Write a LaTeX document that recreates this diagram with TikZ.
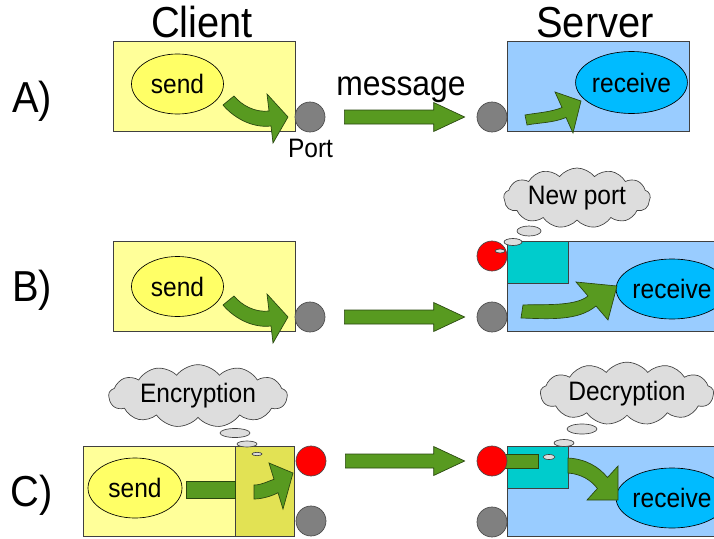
\documentclass[tikz,border=0pt]{standalone}
\usepackage{fontspec}
\setmainfont[FakeStretch=0.92]{Liberation Sans}
\usetikzlibrary{shapes.geometric,shapes.symbols,calc}

\definecolor{clientfill}{RGB}{255,255,153}
\definecolor{sendfill}{RGB}{255,255,102}
\definecolor{encfill}{RGB}{226,226,84}
\definecolor{serverfill}{RGB}{153,204,255}
\definecolor{recvfill}{RGB}{0,187,255}
\definecolor{tealfill}{RGB}{0,204,204}
\definecolor{portgrey}{RGB}{128,128,128}
\definecolor{arrowgreen}{RGB}{88,154,32}
\definecolor{arrowedge}{RGB}{40,70,15}
\definecolor{cloudfill}{RGB}{221,221,221}

% straight fat arrow between two port nodes
\newcommand\fatarrow[2]{%
  \filldraw[garrow] ($(#1.east)+(19,-7)$) -- ($(#2.west)+(-43,-7)$)
    -- ($(#2.west)+(-43,-14.5)$) -- ($(#2.west)+(-12,0)$)
    -- ($(#2.west)+(-43,14.5)$) -- ($(#2.west)+(-43,7)$)
    -- ($(#1.east)+(19,7)$) -- cycle;}

\begin{document}
\begin{tikzpicture}[x=0.75pt,y=-0.75pt,
  box/.style={rectangle, draw=black!75, line width=0.5pt, inner sep=0pt, anchor=north west},
  proc/.style={ellipse, draw=black, line width=0.5pt, inner sep=0pt, lbl},
  port/.style={circle, draw=black!70, line width=0.5pt, fill=portgrey, minimum size=22.5pt, inner sep=0pt},
  garrow/.style={fill=arrowgreen, draw=arrowedge, line width=0.5pt, line join=miter},
  thought/.style={cloud, cloud puffs=13, cloud puff arc=105, cloud ignores aspect, draw=black!75, fill=cloudfill, line width=0.5pt, inner sep=0pt, lbl},
  bubble/.style={ellipse, draw=black!75, fill=cloudfill, line width=0.5pt, inner sep=0pt},
  big/.style={font=\fontsize{32.5}{36}\selectfont},
  mid/.style={font=\fontsize{26}{30}\selectfont},
  lbl/.style={font=\fontsize{20}{24}\selectfont}]
\useasboundingbox (0,0) rectangle (714,539);
\clip (0,0) rectangle (714,539);

% headings
\node[big, anchor=base] (hclient) at (202,37) {Client};
\node[big, anchor=base] (hserver) at (595,37) {Server};
\node[big, anchor=base] (rowA) at (32,112) {A)};
\node[big, anchor=base] (rowB) at (32,301) {B)};
\node[big, anchor=base] (rowC) at (32,506) {C)};

% ---------- row A ----------
\node[box, fill=clientfill, minimum width=136.5pt, minimum height=67.5pt] (clientA) at (113,41) {};
\node[proc, fill=sendfill, minimum width=69pt, minimum height=45pt] (sendA) at (177.5,84) {send};
\filldraw[garrow] (234,96) .. controls (241.6,105.2) and (255,112.7) .. (269,111)
  -- (267,94) -- (288,117) -- (273,143) -- (271,126)
  .. controls (251,128.4) and (232.5,116.5) .. (223,105) -- cycle;
\node[port] (portA) at (310,117) {};
\node[lbl, anchor=base] (portlbl) at (310.5,157) {Port};

\node[box, fill=serverfill, minimum width=136.5pt, minimum height=67.5pt] (serverA) at (507,41) {};
\node[proc, fill=recvfill, minimum width=68.25pt, minimum height=46.5pt] (recvA) at (631.5,82.5) {receive};
\filldraw[garrow] (525,115) .. controls (535,113) and (551,112.3) .. (562,107.5)
  -- (555,92) -- (581,101) -- (573,133) -- (566,117.5)
  .. controls (553,123) and (539,122.6) .. (527,125) -- cycle;
\node[port] (sportA) at (492,117) {};
\fatarrow{portA}{sportA}
\node[mid, anchor=base] (msg) at (401,95) {message};

% ---------- row B ----------
\node[box, fill=clientfill, minimum width=136.5pt, minimum height=67.5pt] (clientB) at (113,241) {};
\node[proc, fill=sendfill, minimum width=69pt, minimum height=45pt] (sendB) at (177.5,286.5) {send};
\begin{scope}[shift={(0,200)}]
\filldraw[garrow] (234,96) .. controls (241.6,105.2) and (255,112.7) .. (269,111)
  -- (267,94) -- (288,117) -- (273,143) -- (271,126)
  .. controls (251,128.4) and (232.5,116.5) .. (223,105) -- cycle;
\end{scope}
\node[port] (portB) at (310,317) {};

\node[box, fill=serverfill, minimum width=167.25pt, minimum height=67.5pt] (serverB) at (507,241) {};
\node[box, fill=tealfill, minimum width=45.75pt, minimum height=31.5pt] (tealB) at (507,241) {};
\node[proc, fill=recvfill, minimum width=67.5pt, minimum height=45pt] (recvB) at (672,289) {receive};
\filldraw[garrow] (523,305) .. controls (540,304) and (575,307) .. (588,296)
  -- (576,282) -- (617,286) -- (608,320) -- (596,306)
  .. controls (578,321) and (550,319) .. (521,318) -- cycle;
\node[port, fill=red] (newB) at (492,256) {};
\node[port] (sportB) at (492,317) {};
\fatarrow{portB}{sportB}

\node[thought, minimum width=110pt, minimum height=45pt] (cloudB) at (577,198) {New port};
\node[bubble, minimum width=18pt, minimum height=7.5pt] (bB1) at (529,231) {};
\node[bubble, minimum width=13.5pt, minimum height=5.25pt] (bB2) at (513,242) {};
\node[bubble, minimum width=7.5pt, minimum height=3pt] (bB3) at (500,251) {};

% ---------- row C ----------
\node[box, fill=clientfill, minimum width=158.25pt, minimum height=67.5pt] (clientC) at (83,446) {};
\node[box, fill=encfill, minimum width=44.25pt, minimum height=67.5pt] (encC) at (235,446) {};
\node[proc, fill=sendfill, minimum width=70.5pt, minimum height=45pt] (sendC) at (135,488) {send};
\filldraw[garrow] ($(sendC.east)+(4,-7)$) rectangle ($(encC.west)+(0,7)$);
\filldraw[garrow] (254,485) .. controls (262,485) and (268.3,481) .. (274,479.3)
  -- (269,463) -- (293,473) -- (283,509) -- (278,492.7)
  .. controls (272,496) and (262,499) .. (254,499) -- cycle;
\node[port, fill=red] (newC) at (311,461) {};
\node[port] (portC) at (311,521) {};

\node[box, fill=serverfill, minimum width=167.25pt, minimum height=67.5pt] (serverC) at (507,446) {};
\node[box, fill=tealfill, minimum width=45.75pt, minimum height=31.5pt] (tealC) at (507,446) {};
\node[proc, fill=recvfill, minimum width=67.5pt, minimum height=45pt] (recvC) at (672,498) {receive};
\coordinate (snewCc) at (492,461);
\filldraw[garrow] ($(snewCc)+(0,-7)$) rectangle ($(snewCc)+(46,7)$);
\filldraw[garrow] (568,458) .. controls (586,459) and (599,467) .. (607.5,477.5)
  -- (618,466) -- (618,500) -- (587,500) -- (597.4,488.5)
  .. controls (591,480) and (581,474) .. (568,473) -- cycle;
\node[port, fill=red] (snewC) at (snewCc) {};
\node[port] (sportC) at (492,522) {};
\fatarrow{newC}{snewC}

\node[thought, minimum width=134pt, minimum height=47pt] (cloudE) at (198,396) {Encryption};
\node[bubble, minimum width=22.5pt, minimum height=6.75pt] (bE1) at (235,433) {};
\node[bubble, minimum width=15pt, minimum height=4.5pt] (bE2) at (247,444) {};
\node[bubble, minimum width=7.5pt, minimum height=2.5pt] (bE3) at (257,454) {};

\node[thought, minimum width=130pt, minimum height=47pt] (cloudD) at (627,393.5) {Decryption};
\node[bubble, minimum width=22.5pt, minimum height=7.5pt] (bD1) at (582,429) {};
\node[bubble, minimum width=15pt, minimum height=5.25pt] (bD2) at (564,443) {};
\node[bubble, minimum width=9pt, minimum height=3.75pt] (bD3) at (549,457) {};
\end{tikzpicture}
\end{document}
